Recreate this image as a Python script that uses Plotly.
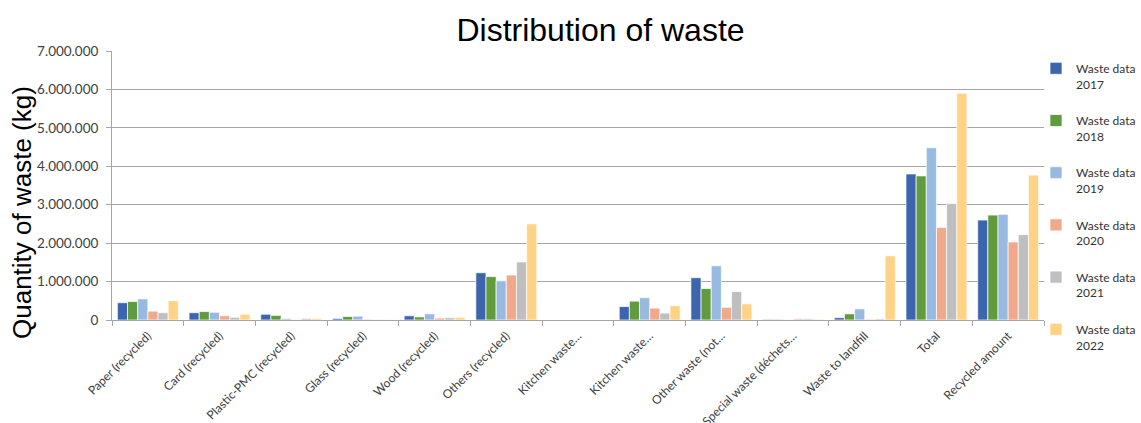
import plotly.graph_objects as go

# Waste categories (x axis); a zero-width space keeps the two truncated
# "Kitchen waste…" labels as separate categories.
categories = [
    "Paper (recycled)",
    "Card (recycled)",
    "Plastic-PMC (recycled)",
    "Glass (recycled)",
    "Wood (recycled)",
    "Others (recycled)",
    "Kitchen waste…",
    "Kitchen waste…\u200b",
    "Other waste (not…",
    "Special waste (déchets…",
    "Waste to landfill",
    "Total",
    "Recycled amount",
]

# Quantities in kg per year
waste_2017 = [450000, 190000, 150000, 40000, 110000, 1230000, 0, 350000, 1100000, 15000, 60000, 3800000, 2600000]
waste_2018 = [480000, 220000, 120000, 90000, 80000, 1130000, 0, 490000, 820000, 15000, 160000, 3750000, 2730000]
waste_2019 = [550000, 200000, 35000, 100000, 160000, 1020000, 0, 580000, 1410000, 5000, 290000, 4480000, 2750000]
waste_2020 = [230000, 110000, 10000, 20000, 50000, 1170000, 0, 310000, 330000, 30000, 20000, 2410000, 2030000]
waste_2021 = [190000, 70000, 40000, 10000, 60000, 1510000, 0, 180000, 740000, 30000, 30000, 3030000, 2220000]
waste_2022 = [500000, 150000, 40000, 15000, 70000, 2500000, 0, 370000, 420000, 20000, 1670000, 5900000, 3770000]

series_names = ["Waste data<br>2017", "Waste data<br>2018", "Waste data<br>2019",
                "Waste data<br>2020", "Waste data<br>2021", "Waste data<br>2022"]
series_values = [waste_2017, waste_2018, waste_2019, waste_2020, waste_2021, waste_2022]
series_colors = ["#3C65AE", "#629A3E", "#98BAE0", "#F0A98B", "#BFBFBF", "#FFD285"]

fig = go.Figure()
for i, (name, vals, col) in enumerate(zip(series_names, series_values, series_colors)):
    fig.add_trace(go.Bar(
        x=categories, y=vals, name=name,
        marker=dict(color=col, line=dict(color="white", width=0.7)),
        legendgroup=f"g{i}",
    ))

W, H = 1141, 423
L, R, T, B = 112, 97, 51, 103
plot_w = W - L - R
plot_h = H - T - B

grid_col = "#A6A6A6"

fig.update_layout(
    width=W, height=H,
    margin=dict(l=L, r=R, t=T, b=B, autoexpand=False),
    paper_bgcolor="white", plot_bgcolor="white",
    separators=",.",
    barmode="group", bargap=0.15, bargroupgap=0,
    title=dict(
        text="Distribution of waste",
        font=dict(family="Liberation Sans", size=32, color="black"),
        x=600.5 / W, xanchor="center", xref="container",
        y=1 - 30 / H, yanchor="middle", yref="container",
    ),
    legend=dict(
        font=dict(family="Lato", size=12, color="#333333"),
        x=1036 / W, xref="container", xanchor="left",
        y=1 - 54 / H, yref="container", yanchor="top",
        valign="top",
        traceorder="grouped",
        tracegroupgap=18,
        maxheight=390,
        bgcolor="rgba(0,0,0,0)",
    ),
    xaxis=dict(
        tickangle=-45,
        tickfont=dict(family="Lato", size=12, color="#404040"),
        showline=True, linecolor=grid_col, linewidth=1,
        ticks="outside", ticklen=5, tickcolor=grid_col,
        tickson="boundaries",
        ticklabelstandoff=3,
        showgrid=False,
    ),
    yaxis=dict(
        range=[0, 7000000], dtick=1000000, tickformat=",d",
        tickfont=dict(family="Lato", size=13.5, color="#404040"),
        showline=True, linecolor=grid_col, linewidth=1,
        ticks="outside", ticklen=5, tickcolor=grid_col,
        ticklabelstandoff=5,
        showgrid=True, gridcolor=grid_col, gridwidth=1,
        zeroline=False,
    ),
    annotations=[dict(
        text="Quantity of waste (kg)",
        textangle=-90,
        font=dict(family="Liberation Sans", size=26, color="black"),
        xref="paper", yref="paper",
        x=(22 - L) / plot_w, y=(H - B - 213) / plot_h,
        xanchor="center", yanchor="middle",
        showarrow=False,
    )],
)

fig.write_html("out.html")
